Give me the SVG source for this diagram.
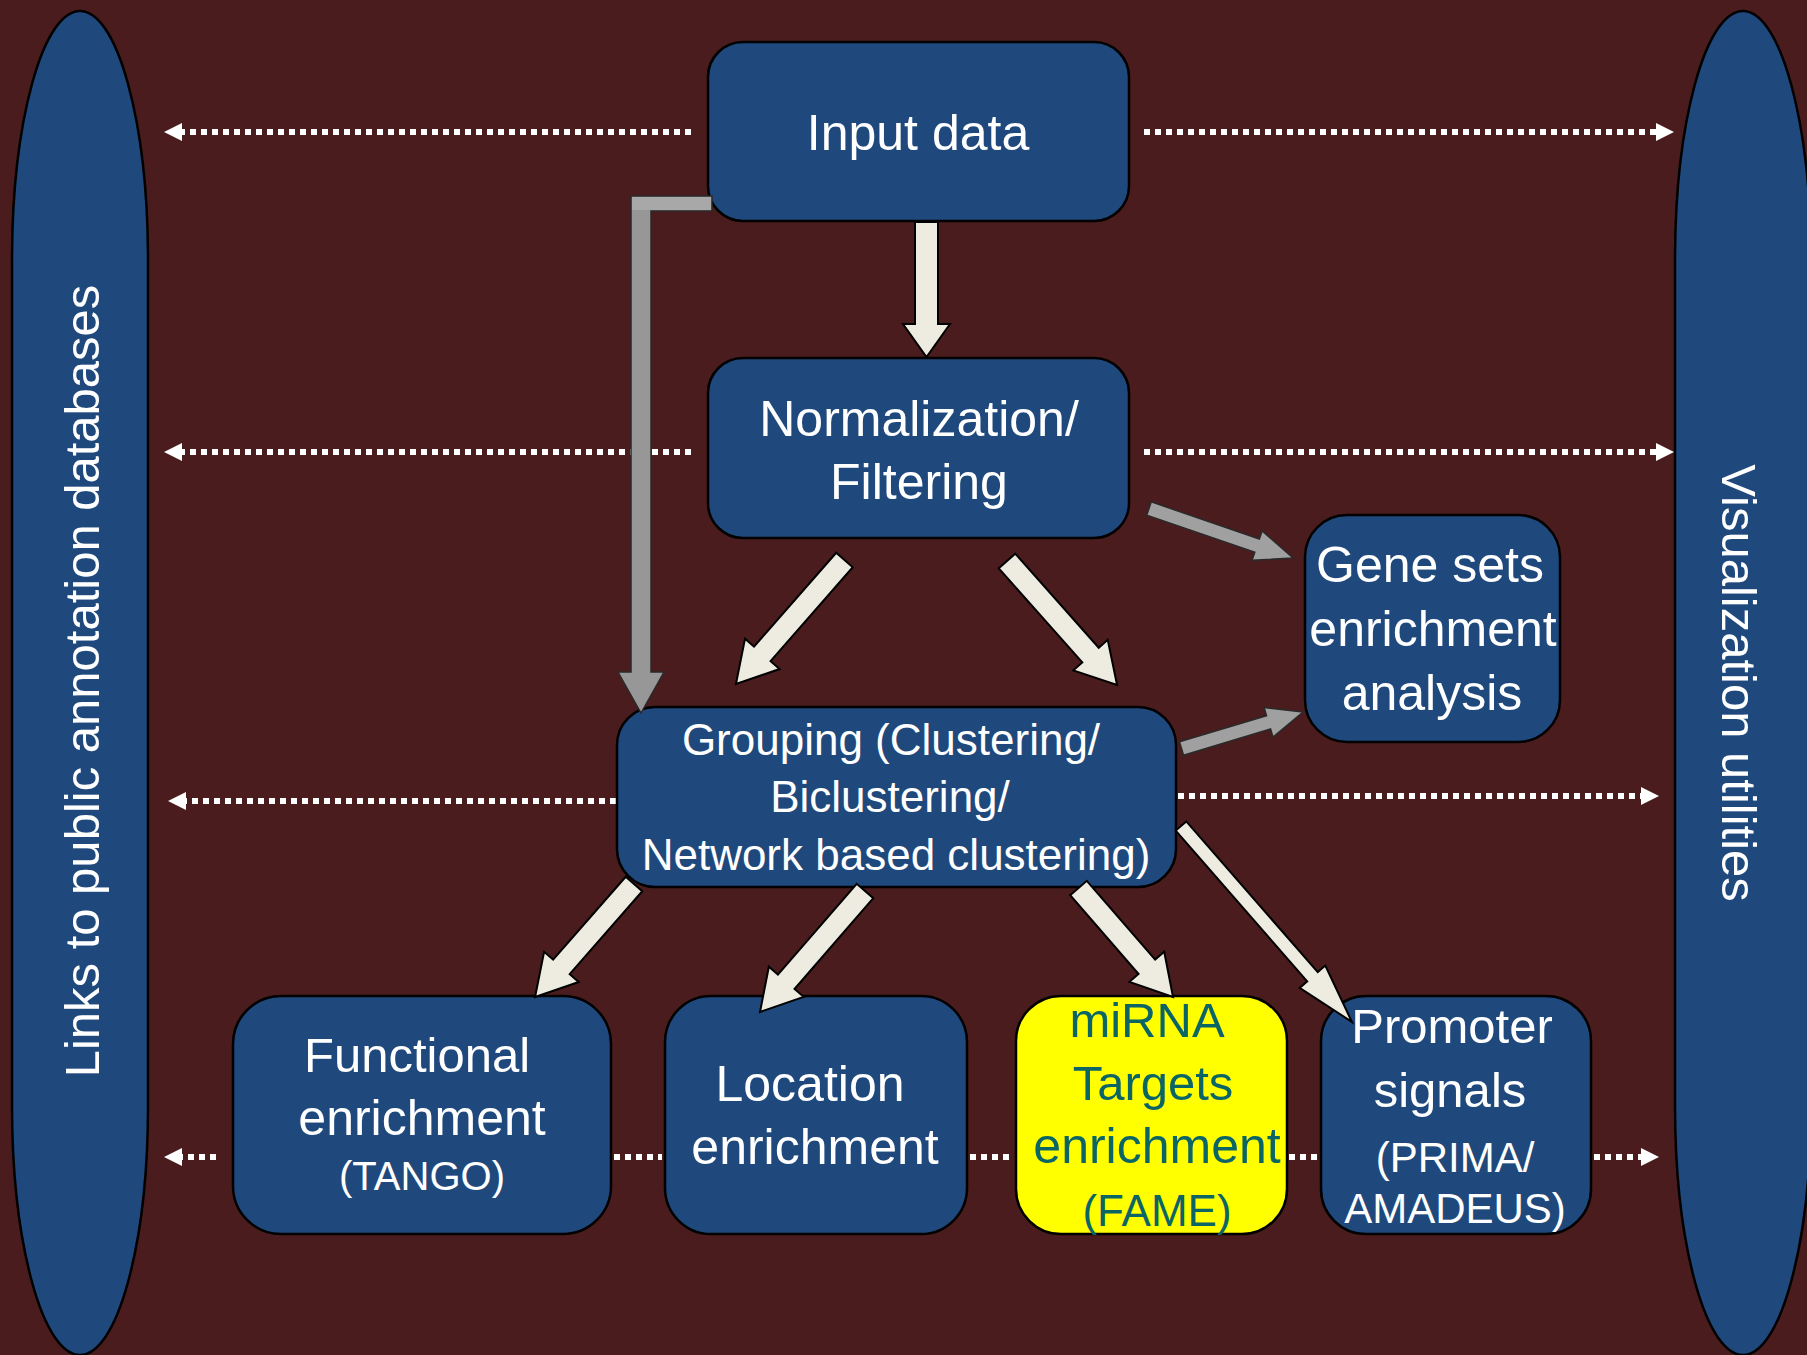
<svg xmlns="http://www.w3.org/2000/svg" width="1807" height="1355" viewBox="0 0 1807 1355">
  <style>
    .node { fill: #1F497D; stroke: #000; stroke-width: 2.5; }
    .hl { fill: #FFFF00; stroke: #000; stroke-width: 2.5; }
    .lbl { fill: #fff; font-family: "Liberation Sans", Arial, sans-serif; text-anchor: middle; }
    .teal { fill: #0B6565; }
    .f50 { font-size: 50px; }
    .f49 { font-size: 49px; }
    .f44 { font-size: 44px; }
    .f42 { font-size: 42px; }
    .f40 { font-size: 40px; }
    .dot { fill: none; stroke: #fff; stroke-width: 6; stroke-dasharray: 6 5; }
    .blk { fill: #EEECE1; stroke: #000; stroke-width: 2; stroke-linejoin: miter; }
    .gry { fill: #A0A0A0; stroke: #2a2a2a; stroke-width: 1.5; }
  </style>
  <defs>
    <marker id="dh" markerUnits="userSpaceOnUse" markerWidth="18" markerHeight="18" viewBox="0 0 18 18" refX="0" refY="9" orient="auto">
      <path d="M0,0 L18,9 L0,18 Z" fill="#fff"/>
    </marker>
  </defs>

  <rect width="1807" height="1355" fill="#4A1C1D"/>

  <!-- side pillars -->
  <g id="annotation-links">
    <rect class="node" x="12" y="11" width="136" height="1344" rx="68" ry="250"/>
    <text class="lbl f49" transform="translate(99,681) rotate(-90)">Links to public annotation databases</text>
  </g>
  <g id="visualization">
    <rect class="node" x="1675" y="11" width="136" height="1344" rx="68" ry="250"/>
    <text class="lbl f49" transform="translate(1722,683) rotate(90)">Visualization utilities</text>
  </g>

  <!-- dotted links towards the side pillars -->
  <g id="dotted-links">
    <path class="dot" d="M691,132 H182" marker-end="url(#dh)"/>
    <path class="dot" d="M1144,132 H1656" marker-end="url(#dh)"/>
    <path class="dot" d="M691,452 H182" marker-end="url(#dh)"/>
    <path class="dot" d="M1144,452 H1656" marker-end="url(#dh)"/>
    <path class="dot" d="M616,801 H186" marker-end="url(#dh)"/>
    <path class="dot" d="M1178,796 H1641" marker-end="url(#dh)"/>
    <path class="dot" d="M216,1157 H182" marker-end="url(#dh)"/>
    <path class="dot" d="M1594,1157 H1641" marker-end="url(#dh)"/>
    <path class="dot" d="M614,1157 H662"/>
    <path class="dot" d="M970,1157 H1014"/>
    <path class="dot" d="M1289,1157 H1320"/>
  </g>

  <!-- nodes -->
  <g id="input-data">
    <rect class="node" x="708" y="42" width="421" height="179" rx="35"/>
    <text class="lbl f50" x="918" y="150">Input data</text>
  </g>
  <g id="normalization">
    <rect class="node" x="708" y="358" width="421" height="180" rx="35"/>
    <text class="lbl f50" x="919" y="436">Normalization/</text>
    <text class="lbl f50" x="919" y="499">Filtering</text>
  </g>
  <g id="gene-sets">
    <rect class="node" x="1305" y="515" width="255" height="227" rx="42"/>
    <text class="lbl f50" x="1430" y="582">Gene sets</text>
    <text class="lbl f50" x="1433" y="646">enrichment</text>
    <text class="lbl f50" x="1432" y="710">analysis</text>
  </g>
  <g id="grouping">
    <rect class="node" x="617" y="707" width="559" height="180" rx="38"/>
    <text class="lbl f44" x="891" y="755">Grouping (Clustering/</text>
    <text class="lbl f44" x="890" y="812">Biclustering/</text>
    <text class="lbl f44" x="896" y="870">Network based clustering)</text>
  </g>
  <g id="functional">
    <rect class="node" x="233" y="996" width="378" height="238" rx="48"/>
    <text class="lbl f49" x="417" y="1072">Functional</text>
    <text class="lbl f50" x="422" y="1135">enrichment</text>
    <text class="lbl f40" x="422" y="1190">(TANGO)</text>
  </g>
  <g id="location">
    <rect class="node" x="665" y="996" width="302" height="238" rx="46"/>
    <text class="lbl f50" x="810" y="1101">Location</text>
    <text class="lbl f50" x="815" y="1164">enrichment</text>
  </g>
  <g id="mirna">
    <rect class="hl" x="1016" y="996" width="271" height="238" rx="45"/>
    <text class="lbl teal f49" x="1147" y="1037">miRNA</text>
    <text class="lbl teal f49" x="1153" y="1100">Targets</text>
    <text class="lbl teal f50" x="1157" y="1163">enrichment</text>
    <text class="lbl teal f44" x="1157" y="1226">(FAME)</text>
  </g>
  <g id="promoter">
    <rect class="node" x="1321" y="996" width="270" height="238" rx="45"/>
    <text class="lbl f49" x="1452" y="1043">Promoter</text>
    <text class="lbl f49" x="1450" y="1107">signals</text>
    <text class="lbl f42" x="1455" y="1172">(PRIMA/</text>
    <text class="lbl f42" x="1455" y="1223">AMADEUS)</text>
  </g>

  <!-- block arrows: each drawn along +x from tail (0,0) to tip (L,0) -->
  <g id="connectors">
    <!-- input data -> grouping (bent, grey) -->
    <path class="gry" style="fill:#979797" d="M712,196 H631 V672 H618 L641,713 L664,672 H651 V211 H712 Z"/>
    <rect x="632" y="197" width="79" height="13" fill="#A8A8A8"/>

    <!-- input data -> normalization -->
    <polygon class="blk" transform="translate(926.5,222) rotate(90)" points="0,-11.5 102,-11.5 102,-23.5 135,0 102,23.5 102,11.5 0,11.5"/>
    <!-- normalization -> grouping (two) -->
    <polygon class="blk" transform="translate(844.5,560) rotate(131.2)" points="0,-11 124.8,-11 124.8,-23 164.8,0 124.8,23 124.8,11 0,11"/>
    <polygon class="blk" transform="translate(1007,561) rotate(48.4)" points="0,-11 125.8,-11 125.8,-23 165.8,0 125.8,23 125.8,11 0,11"/>
    <!-- grouping -> bottom row -->
    <polygon class="blk" transform="translate(634,884) rotate(131.2)" points="0,-11 110.2,-11 110.2,-23 150.2,0 110.2,23 110.2,11 0,11"/>
    <polygon class="blk" transform="translate(865,891) rotate(130.95)" points="0,-11 120.2,-11 120.2,-23 160.2,0 120.2,23 120.2,11 0,11"/>
    <polygon class="blk" transform="translate(1078.5,888) rotate(49.07)" points="0,-11 104.3,-11 104.3,-23 144.3,0 104.3,23 104.3,11 0,11"/>
    <polygon class="blk" transform="translate(1181,826) rotate(48.9)" points="0,-7 200,-7 200,-17 260,0 200,17 200,7 0,7"/>
    <!-- into gene sets (grey) -->
    <polygon class="gry" transform="translate(1149,508.5) rotate(18.97)" points="0,-7 114.3,-7 114.3,-15.5 152.3,0 114.3,15.5 114.3,7 0,7"/>
    <polygon class="gry" transform="translate(1181.5,748.5) rotate(-16.72)" points="0,-7 90.9,-7 90.9,-15.5 126.9,0 90.9,15.5 90.9,7 0,7"/>
  </g>
</svg>
